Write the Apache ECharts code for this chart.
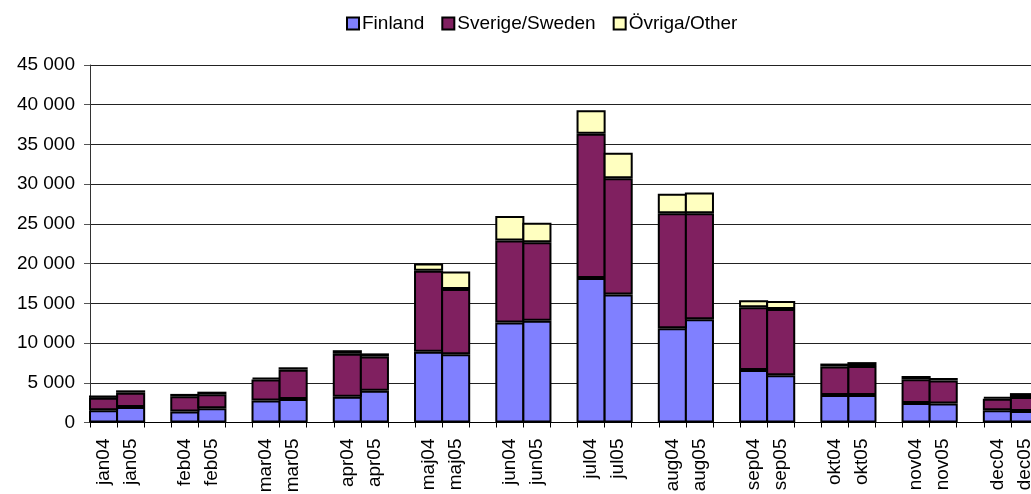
<!DOCTYPE html>
<html>
<head>
<meta charset="utf-8">
<script src="https://cdn.jsdelivr.net/npm/echarts@6/dist/echarts.min.js"></script>
<style>
html,body{margin:0;padding:0;background:#fff;}
#chart{width:1031px;height:494px;}
</style>
</head>
<body>
<div id="chart"></div>
<script>
const months = ['jan','feb','mar','apr','maj','jun','jul','aug','sep','okt','nov','dec'];
// values per month: [2004, 2005]
const finland = [[1550,1950],[1400,1800],[2770,2950],[3250,4000],[8900,8600],[12600,12800],[18200,16100],[11850,13000],[6600,5950],[3450,3450],[2450,2400],[1550,1450]];
const sweden  = [[1550,1800],[1900,1750],[2650,3700],[5400,4300],[10200,8200],[10300,9900],[18150,14650],[14500,13350],[7900,8350],[3600,3650],[3000,2900],[1450,1750]];
const other   = [[300,300],[300,330],[250,300],[450,400],[900,2200],[3100,2450],[2950,3200],[2450,2600],[900,1000],[370,500],[400,300],[250,500]];
const yTicks = [0,5000,10000,15000,20000,25000,30000,35000,40000,45000];

// build category list with an empty slot between month pairs
const categories = [];
function build(src){
  const out = [];
  src.forEach((pair,i)=>{
    out.push(pair[0], pair[1]);
    if(i < src.length-1) out.push(null);
  });
  return out;
}
months.forEach((m,i)=>{
  categories.push(m+'04', m+'05');
  if(i < months.length-1) categories.push('');
});

const font = 'Liberation Sans, Arial, sans-serif';
const W = 1031, gridLeft = 90, gridRight = -7, bw = 2;
const band = (W - gridLeft - gridRight) / categories.length;
const border = {borderColor:'#000', borderWidth:bw};
const barCommon = {type:'bar',stack:'t',barWidth:band + bw,barGap:'0%'};

const chart = echarts.init(document.getElementById('chart'), null, {renderer:'canvas'});
chart.setOption({
  animation:false,
  backgroundColor:'#fff',
  textStyle:{fontFamily:font},
  legend:{
    top:9,
    left:341,
    icon:'rect',
    itemWidth:12,
    itemHeight:12,
    itemGap:17,
    textStyle:{fontFamily:font,fontSize:19,color:'#000',padding:[0,0,0,-2]},
    data:['Finland','Sverige/Sweden','Övriga/Other']
  },
  grid:{left:gridLeft,right:gridRight,top:65,bottom:71.5,outerBoundsMode:'none',containLabel:false},
  xAxis:{
    type:'category',
    data:categories,
    axisLine:{show:true,lineStyle:{color:'#000',width:1}},
    axisTick:{show:true,interval:0,length:5,lineStyle:{color:'#000'}},
    axisLabel:{interval:0,rotate:90,margin:16,fontFamily:font,fontSize:19,color:'#000'},
    splitLine:{show:false}
  },
  yAxis:{
    type:'value',
    min:yTicks[0],
    max:yTicks[yTicks.length-1],
    interval:yTicks[1]-yTicks[0],
    axisLine:{show:true,lineStyle:{color:'#333',width:1}},
    axisTick:{show:true,length:6,lineStyle:{color:'#555'}},
    axisLabel:{margin:15,fontFamily:font,fontSize:19,color:'#000',
      formatter:v=>String(v).replace(/\B(?=(\d{3})+(?!\d))/g,' ')},
    splitLine:{show:true,lineStyle:{color:'#222',width:1}}
  },
  series:[
    Object.assign({name:'Finland',data:build(finland),
     itemStyle:Object.assign({color:'#8080FF'},border)},barCommon),
    Object.assign({name:'Sverige/Sweden',data:build(sweden),
     itemStyle:Object.assign({color:'#802060'},border)},barCommon),
    Object.assign({name:'Övriga/Other',data:build(other),
     itemStyle:Object.assign({color:'#FFFFC0'},border)},barCommon)
  ]
});
</script>
</body>
</html>
